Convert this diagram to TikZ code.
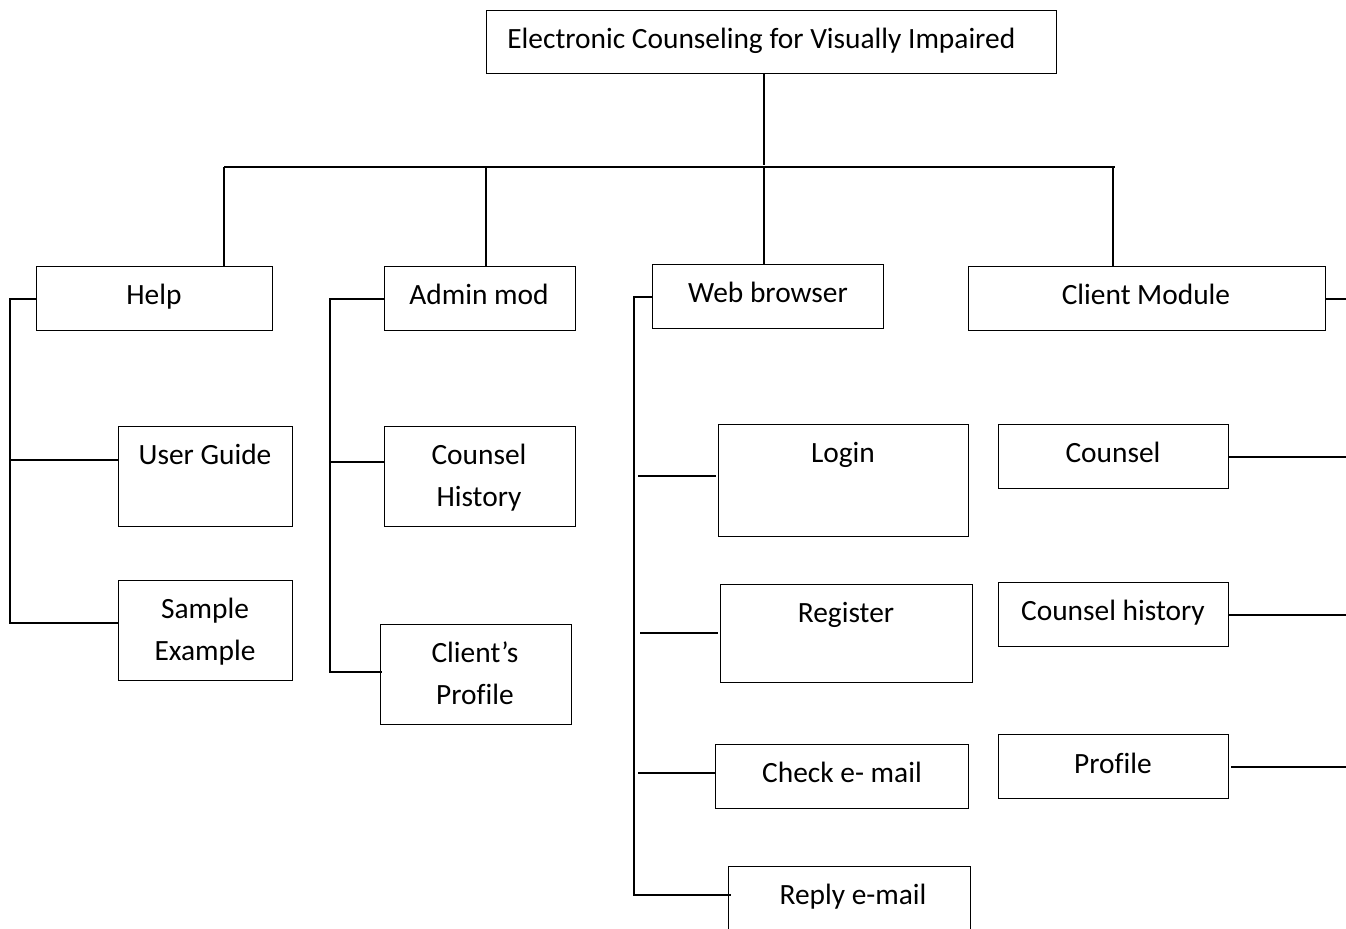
\documentclass[tikz,border=0pt]{standalone}
\usepackage{fontspec}
\setmainfont{Carlito}[Ligatures=NoCommon]
\begin{document}
\begin{tikzpicture}[x=0.5pt,y=-0.5pt]
\tikzset{
  box/.style={draw, line width=0.7pt, inner sep=0pt, anchor=north west},
  conn/.style={line width=1pt},
  lbl/.style={inner sep=0pt, anchor=base, font=\fontsize{14.7}{21}\selectfont, align=center},
}
\newcommand\boxnode[5]{\node[box, minimum width={(#4-#2)*0.5pt}, minimum height={(#5-#3)*0.5pt}] (#1) at (#2,#3) {};}
\useasboundingbox (0,0) rectangle (1346,928);
% boxes
\boxnode{root}{486}{10}{1056}{73}
\boxnode{help}{36}{266}{272}{330}
\boxnode{admin}{384}{266}{575}{330}
\boxnode{web}{652}{264}{883}{328}
\boxnode{client}{968}{266}{1325}{330}
\boxnode{ug}{118}{426}{292}{526}
\boxnode{se}{118}{580}{292}{680}
\boxnode{chist}{384}{426}{575}{526}
\boxnode{cprof}{380}{624}{571}{724}
\boxnode{login}{718}{424}{968}{536}
\boxnode{reg}{720}{584}{972}{682}
\boxnode{check}{715}{744}{968}{808}
\boxnode{reply}{728}{866}{970}{945}
\boxnode{counsel}{998}{424}{1228}{488}
\boxnode{counselh}{998}{582}{1228}{646}
\boxnode{profile}{998}{734}{1228}{798}
% labels
\node[lbl, anchor=base west] (troot) at (507,48) {Electronic Counseling for Visually Impaired};
\node[lbl] (thelp) at (154,304) {Help};
\node[lbl] (tadmin) at (479,304) {Admin mod};
\node[lbl] (tweb) at (768,302) {Web browser};
\node[lbl] (tclient) at (1146,304) {Client Module};
\node[lbl] (tug) at (205,464) {User Guide};
\node[lbl] (tse) at (205,660) {Sample\\Example};
\node[lbl] (tchist) at (479,506) {Counsel\\History};
\node[lbl] (tcprof) at (475,704) {Client’s\\Profile};
\node[lbl] (tlogin) at (843,462) {Login};
\node[lbl] (treg) at (846,622) {Register};
\node[lbl] (tcheck) at (842,782) {Check e- mail};
\node[lbl] (treply) at (853,904) {Reply e-mail};
\node[lbl] (tcounsel) at (1113,462) {Counsel};
\node[lbl] (tcounselh) at (1113,620) {Counsel history};
\node[lbl] (tprofile) at (1113,773) {Profile};
% top tree
\coordinate (busL) at (224,167);
\coordinate (busR) at (1115,167);
\coordinate (rdrop) at (764,165);
\coordinate (dA) at (486,167);
\coordinate (dW) at (764,167);
\coordinate (dC) at (1113,167);
\draw[line width=0.7pt] (root.south -| rdrop) -- (rdrop);
\draw[line width=1.2pt] (busL) -- (busR);
\draw[line width=0.7pt] (busL) -- (busL |- help.north);
\draw[line width=0.7pt] (dA) -- (dA |- admin.north);
\draw[line width=0.7pt] (dW) -- (dW |- web.north);
\draw[line width=0.7pt] (dC) -- (dC |- client.north);
% help subtree
\coordinate (hbot) at (10,623);
\coordinate (hug) at (10,460);
\draw[conn] (help.west) -| (hbot) -- (se.west |- hbot);
\draw[conn] (hug) -- (ug.west |- hug);
% admin subtree
\coordinate (abot) at (330,672);
\coordinate (ach) at (330,462);
\draw[conn] (admin.west) -| (abot) -- ([xshift=1pt]cprof.west |- abot);
\draw[conn] (ach) -- (chist.west |- ach);
% web subtree
\coordinate (wbot) at (634,895);
\coordinate (wl) at (638,476);
\coordinate (wr) at (640,633);
\coordinate (wc) at (638,773);
\draw[conn] (web.west) -| (wbot) -- ([xshift=1.5pt]reply.west |- wbot);
\draw[conn] (wl) -- ([xshift=-1pt]login.west |- wl);
\draw[conn] (wr) -- ([xshift=-1pt]reg.west |- wr);
\draw[conn] (wc) -- (check.west |- wc);
% client subtree
\coordinate (redge) at (1346,298);
\draw[conn] (client.east) -- (client.east -| redge);
\draw[conn] (counsel.east) -- (counsel.east -| redge);
\draw[conn] (counselh.east) -- (counselh.east -| redge);
\draw[conn] ([xshift=1pt]profile.east) -- (profile.east -| redge);
\end{tikzpicture}
\end{document}
